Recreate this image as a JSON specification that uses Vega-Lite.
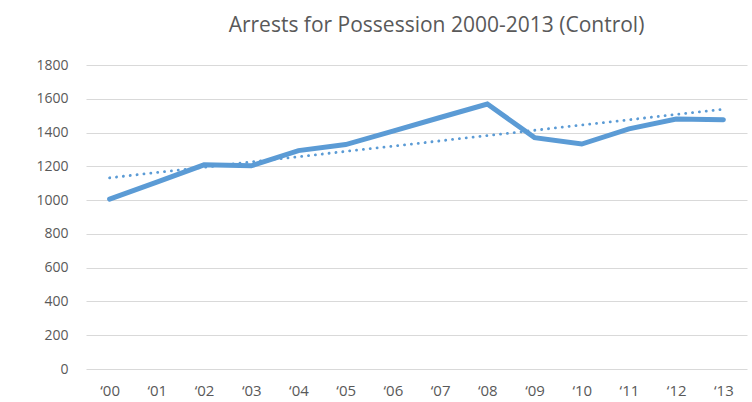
{
  "$schema": "https://vega.github.io/schema/vega-lite/v6.json",
  "width": 661,
  "height": 304,
  "autosize": {"type": "none"},
  "padding": {"left": 86, "top": 65, "right": 5, "bottom": 33},
  "background": "white",
  "title": {
    "text": "Arrests for Possession 2000-2013 (Control)",
    "font": "Open Sans",
    "fontSize": 21,
    "fontWeight": "normal",
    "color": "#595959",
    "anchor": "middle",
    "dx": 20,
    "offset": 22
  },
  "config": {
    "view": {"stroke": null},
    "axis": {
      "labelFont": "Open Sans",
      "labelFontSize": 14,
      "labelColor": "#595959",
      "domain": false,
      "ticks": false
    }
  },
  "data": {
    "values": [
      {"year": 2000, "arrests": 1006},
      {"year": 2001, "arrests": 1107},
      {"year": 2002, "arrests": 1209},
      {"year": 2003, "arrests": 1203},
      {"year": 2004, "arrests": 1293},
      {"year": 2005, "arrests": 1329},
      {"year": 2006, "arrests": 1409},
      {"year": 2007, "arrests": 1489},
      {"year": 2008, "arrests": 1569},
      {"year": 2009, "arrests": 1370},
      {"year": 2010, "arrests": 1332},
      {"year": 2011, "arrests": 1422},
      {"year": 2012, "arrests": 1480},
      {"year": 2013, "arrests": 1476}
    ]
  },
  "encoding": {
    "x": {
      "field": "year",
      "type": "quantitative",
      "scale": {"domain": [1999.5, 2013.5], "nice": false, "zero": false},
      "axis": {
        "title": null,
        "grid": false,
        "values": [2000, 2001, 2002, 2003, 2004, 2005, 2006, 2007, 2008, 2009, 2010, 2011, 2012, 2013],
        "labelExpr": "'\u2018' + slice(toString(datum.value), 2)",
        "labelPadding": 14,
        "labelFontSize": 15
      }
    },
    "y": {
      "field": "arrests",
      "type": "quantitative",
      "scale": {"domain": [0, 1800], "nice": false},
      "axis": {
        "title": null,
        "format": "d",
        "values": [0, 200, 400, 600, 800, 1000, 1200, 1400, 1600, 1800],
        "gridColor": "#D9D9D9",
        "gridWidth": 1,
        "labelPadding": 18
      }
    }
  },
  "layer": [
    {
      "mark": {"type": "line", "color": "#5B9BD5", "strokeWidth": 5, "strokeCap": "round", "strokeJoin": "miter"}
    },
    {
      "transform": [{"regression": "arrests", "on": "year", "method": "linear"}],
      "mark": {"type": "line", "color": "#5B9BD5", "strokeWidth": 2.8, "strokeCap": "round", "strokeDash": [0.1, 6.8]}
    }
  ]
}
